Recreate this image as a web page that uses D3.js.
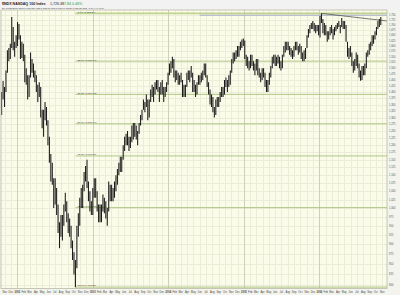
<!DOCTYPE html>
<html>
<head>
<meta charset="utf-8">
<script src="https://cdn.jsdelivr.net/npm/d3@7"></script>
<style>
  html, body { margin: 0; padding: 0; background: #ffffff; }
  svg { display: block; font-family: "Liberation Sans", "DejaVu Sans", sans-serif; }
</style>
</head>
<body>
<svg id="chart"></svg>
<script>
const width = 400;
const height = 295;

// weekly [high, low], one array per year
const bars2001 = [[1400,1310],[1445,1370],[1420,1340],[1490,1400],[1580,1480],[1590,1530],[1610,1540],[1740,1590],[1690,1580],[1620,1550],[1650,1590]];
const bars2002 = [[1715,1600],[1705,1630],[1650,1540],[1620,1545],[1610,1530],[1560,1440],[1500,1430],[1470,1370],[1470,1380],[1570,1460],[1540,1480],[1520,1460],[1490,1440],[1470,1400],[1430,1360],[1440,1380],[1420,1300],[1330,1260],[1330,1230],[1360,1290],[1340,1270],[1290,1200],[1230,1140],[1170,1080],[1140,1070],[1090,1000],[1090,1010],[1060,980],[1010,930],[960,890],[980,920],[980,910],[1010,950],[1045,990],[1020,960],[985,930],[970,920],[950,890],[910,860],[880,825],[860,795],[950,840],[985,920],[1030,950],[1060,1000],[1070,1000],[1110,1050],[1130,1080],[1150,1060],[1080,1020],[1050,990],[1020,980]];
const bars2003 = [[1060,980],[1090,1030],[1090,1030],[1050,990],[1010,960],[1010,960],[1010,960],[1040,990],[1030,985],[1020,970],[1000,950],[1080,990],[1070,1020],[1070,1020],[1060,1020],[1080,1030],[1100,1050],[1120,1070],[1140,1100],[1160,1110],[1160,1110],[1200,1150],[1230,1180],[1240,1200],[1250,1200],[1230,1180],[1230,1190],[1270,1210],[1280,1220],[1280,1230],[1270,1220],[1250,1200],[1280,1240],[1310,1270],[1330,1290],[1370,1330],[1360,1320],[1390,1340],[1370,1290],[1370,1300],[1410,1360],[1430,1380],[1420,1360],[1440,1390],[1450,1410],[1450,1400],[1420,1360],[1440,1390],[1450,1390],[1420,1360],[1420,1380],[1440,1400]];
const bars2004 = [[1480,1430],[1520,1470],[1530,1480],[1550,1500],[1540,1460],[1490,1440],[1490,1450],[1480,1430],[1470,1430],[1480,1440],[1450,1380],[1430,1380],[1430,1380],[1480,1420],[1490,1450],[1490,1440],[1510,1460],[1480,1400],[1450,1400],[1430,1380],[1440,1390],[1470,1430],[1470,1430],[1480,1440],[1490,1450],[1520,1470],[1520,1460],[1470,1420],[1440,1390],[1410,1350],[1390,1340],[1380,1320],[1340,1300],[1370,1310],[1380,1340],[1380,1340],[1400,1360],[1420,1380],[1420,1380],[1450,1390],[1460,1420],[1450,1400],[1470,1420],[1490,1430],[1540,1480],[1570,1520],[1570,1530],[1580,1540],[1600,1550],[1600,1550],[1620,1580],[1630,1590],[1635,1600]];
const bars2005 = [[1625,1540],[1560,1510],[1550,1500],[1530,1490],[1560,1500],[1560,1510],[1530,1490],[1520,1470],[1540,1490],[1540,1470],[1500,1460],[1480,1440],[1500,1450],[1500,1460],[1480,1420],[1450,1400],[1450,1400],[1480,1430],[1510,1460],[1550,1500],[1560,1520],[1560,1510],[1550,1510],[1560,1520],[1550,1500],[1530,1490],[1560,1500],[1600,1550],[1620,1570],[1620,1580],[1620,1580],[1600,1560],[1590,1550],[1580,1540],[1600,1550],[1620,1580],[1620,1580],[1600,1560],[1610,1570],[1600,1540],[1570,1530],[1580,1530],[1590,1540],[1650,1590],[1680,1640],[1700,1660],[1710,1680],[1720,1680],[1710,1670],[1700,1660],[1700,1670],[1700,1650]];
const bars2006 = [[1745,1640],[1758,1710],[1730,1660],[1710,1650],[1700,1650],[1670,1620],[1670,1630],[1690,1650],[1700,1660],[1680,1630],[1690,1650],[1700,1670],[1710,1680],[1720,1690],[1700,1660],[1735,1690],[1720,1680],[1720,1680],[1700,1620],[1620,1550],[1590,1540],[1600,1550],[1570,1510],[1530,1480],[1540,1490],[1570,1510],[1560,1500],[1520,1460],[1490,1446],[1510,1450],[1510,1470],[1520,1470],[1570,1500],[1580,1550],[1610,1560],[1620,1580],[1650,1600],[1650,1610],[1670,1630],[1690,1650],[1720,1680],[1730,1690],[1740,1700]];
const yearBars = [bars2001, bars2002, bars2003, bars2004, bars2005, bars2006];
const firstFriday = ["2001-10-19", "2002-01-04", "2003-01-03", "2004-01-02", "2005-01-07", "2006-01-06"];

// fibonacci retracement, from the 2002 low to the 2006 high
const fibLow = { date: "2002-10-09", value: 795.25 };
const fibHigh = { date: "2006-01-11", value: 1758.24 };
const fibRatios = [0, 0.236, 0.382, 0.5, 0.618, 0.786, 1];

// annotations
const trendLine = [["2006-01-11", 1758.24], ["2006-11-24", 1720]];
const flatLine = [["2004-06-01", 1749], ["2006-11-24", 1749]];

const priceTicks = d3.range(800, 1751, 25);
const monthNames = ["Jan","Feb","Mar","Apr","May","Jun","Jul","Aug","Sep","Oct","Nov","Dec"];

const titleText = "$NDX NASDAQ 100 Index";
const lastText = "1,726.38";
const changeText = "7.84  0.46%";
const infoText = "Dly 10/27/2006  Open 1,718.31  High 1,731.06  Low 1,715.99  Close 1,726.38  Chg +7.84 (+0.46%)";

const parse = d3.timeParse("%Y-%m-%d");
const fmt = d3.format(",.2f");

const plot = { left: 1, right: 387, top: 10, bottom: 288.5 };

const x = d3.scaleTime()
    .domain([parse("2001-10-14"), parse("2006-11-24")])
    .range([plot.left, plot.right]);

const y = d3.scaleLog()
    .domain([792, 1775.6])
    .range([plot.bottom, plot.top]);

const svg = d3.select("#chart")
    .attr("width", width)
    .attr("height", height);

// backgrounds
svg.append("rect").attr("x", 0).attr("y", 0).attr("width", width).attr("height", height).attr("fill", "#f4f4ee");
svg.append("rect").attr("x", 0).attr("y", 0).attr("width", width).attr("height", plot.top).attr("fill", "#f2f2f2");
svg.append("rect")
    .attr("x", plot.left).attr("y", plot.top)
    .attr("width", plot.right - plot.left).attr("height", plot.bottom - plot.top)
    .attr("fill", "#fbfbea");

svg.append("clipPath").attr("id", "plotclip")
    .append("rect")
    .attr("x", plot.left).attr("y", plot.top)
    .attr("width", plot.right - plot.left).attr("height", plot.bottom - plot.top);

const grid = svg.append("g").attr("clip-path", "url(#plotclip)");

// horizontal grid
grid.selectAll("line.h")
    .data(priceTicks)
    .join("line")
    .attr("x1", plot.left).attr("x2", plot.right)
    .attr("y1", d => Math.round(y(d)) + 0.5).attr("y2", d => Math.round(y(d)) + 0.5)
    .attr("stroke", "#ecedd8").attr("stroke-width", 1);

// vertical month grid
const months = d3.timeMonth.range(parse("2001-11-01"), parse("2006-11-24"));
grid.selectAll("line.v")
    .data(months)
    .join("line")
    .attr("x1", d => Math.round(x(d)) + 0.5).attr("x2", d => Math.round(x(d)) + 0.5)
    .attr("y1", plot.top).attr("y2", plot.bottom)
    .attr("stroke", d => d.getMonth() === 0 ? "#cfd0ba" : "#ecedd8")
    .attr("stroke-width", 1);

// fibonacci lines
const fibX = x(parse(fibLow.date));
const fibLevels = fibRatios.map(r => ({
    ratio: r,
    value: fibHigh.value - r * (fibHigh.value - fibLow.value)
}));

grid.selectAll("line.fib")
    .data(fibLevels)
    .join("line")
    .attr("x1", fibX).attr("x2", plot.right)
    .attr("y1", d => y(d.value)).attr("y2", d => y(d.value))
    .attr("stroke", d => d.ratio === 0 ? "#bfd38e" : "#a9c07a")
    .attr("stroke-width", d => d.ratio === 0 ? 1.8 : 0.9);

grid.selectAll("text.fib")
    .data(fibLevels)
    .join("text")
    .attr("x", fibX + 2)
    .attr("y", d => y(d.value) - 0.6)
    .attr("font-size", 2.5)
    .attr("fill", "#333")
    .text(d => d3.format(".1f")(d.ratio * 100) + "% (" + fmt(d.value) + ")");

// flat and trend lines
const linePath = d3.line()
    .x(d => x(parse(d[0])))
    .y(d => y(d[1]));

grid.append("path")
    .attr("d", linePath(flatLine))
    .attr("fill", "none")
    .attr("stroke", "#9aa6c4")
    .attr("stroke-width", 0.9);

grid.append("path")
    .attr("d", linePath(trendLine))
    .attr("fill", "none")
    .attr("stroke", "#555")
    .attr("stroke-width", 0.8);

// price bars
const bars = [];
yearBars.forEach((list, k) => {
    const start = parse(firstFriday[k]);
    list.forEach((d, i) => {
        bars.push({ date: d3.timeDay.offset(start, 7 * i - 2), hi: d[0], lo: d[1] });
    });
});

grid.selectAll("line.bar")
    .data(bars)
    .join("line")
    .attr("x1", d => x(d.date)).attr("x2", d => x(d.date))
    .attr("y1", d => y(d.hi)).attr("y2", d => y(d.lo))
    .attr("stroke", "#1a1a1a")
    .attr("stroke-width", 1.05);

// frame
svg.append("rect")
    .attr("x", plot.left).attr("y", plot.top)
    .attr("width", plot.right - plot.left).attr("height", plot.bottom - plot.top)
    .attr("fill", "none")
    .attr("stroke", "#b9b9a6")
    .attr("stroke-width", 0.8);

// right axis labels
svg.append("g").selectAll("text")
    .data(priceTicks)
    .join("text")
    .attr("x", plot.right + 2)
    .attr("y", d => y(d) + 1)
    .attr("font-size", 2.6)
    .attr("fill", "#555")
    .text(d => d3.format(",")(d));

// bottom axis labels
svg.append("g").selectAll("text")
    .data(months)
    .join("text")
    .attr("x", d => x(d))
    .attr("y", plot.bottom + 4.5)
    .attr("text-anchor", "middle")
    .attr("font-size", 2.6)
    .attr("font-weight", d => d.getMonth() === 0 ? "bold" : "normal")
    .attr("fill", "#444")
    .text(d => d.getMonth() === 0 ? d.getFullYear() : monthNames[d.getMonth()]);

// header
svg.append("text")
    .attr("x", 2).attr("y", 4.6)
    .attr("font-size", 3.6).attr("font-weight", "bold").attr("fill", "#222")
    .text(titleText);
svg.append("text")
    .attr("x", 50).attr("y", 4.6)
    .attr("font-size", 3.6).attr("fill", "#222")
    .text(lastText);
svg.append("text")
    .attr("x", 64).attr("y", 4.6)
    .attr("font-size", 3.6).attr("fill", "#2a9a2a")
    .text(changeText);
svg.append("text")
    .attr("x", 2).attr("y", 8.6)
    .attr("font-size", 2.4).attr("fill", "#333")
    .text(infoText);
</script>
</body>
</html>
